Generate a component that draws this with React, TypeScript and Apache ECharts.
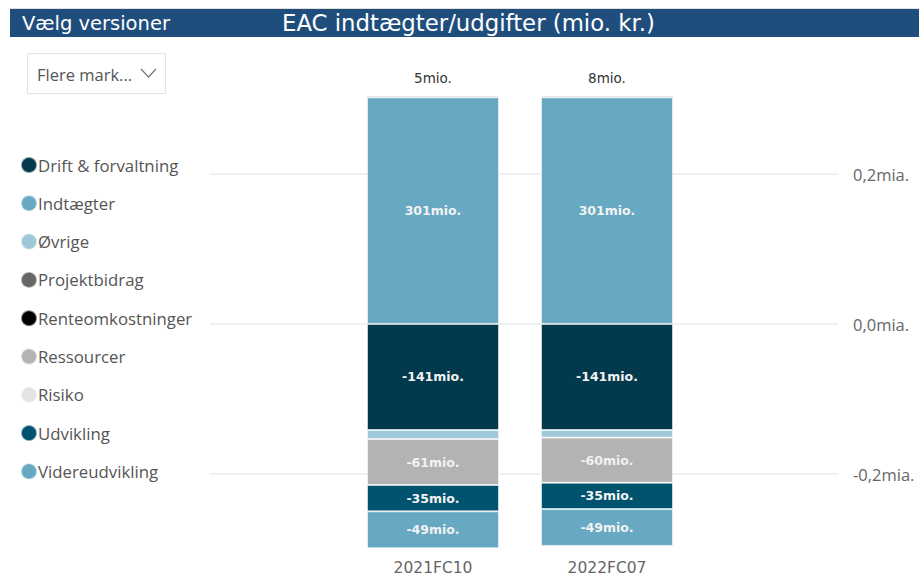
import React, { useEffect, useRef } from "react";
import * as echarts from "echarts";

const categories = ["2021FC10", "2022FC07"];
const seriesNames = [
  "Drift & forvaltning",
  "Indtægter",
  "Øvrige",
  "Projektbidrag",
  "Renteomkostninger",
  "Ressourcer",
  "Risiko",
  "Udvikling",
  "Videreudvikling",
];
const seriesColors = [
  "#03394c",
  "#67a9c2",
  "#9cc8d8",
  "#666666",
  "#000000",
  "#b3b3b3",
  "#e3e3e3",
  "#00536e",
  "#67a9c2",
];
// values in mio. kr. per category
const driftValues = [-141, -141];
const indtaegterValues = [301, 301];
const oevrigeValues = [-12, -10];
const projektbidragValues = [2, 2];
const renteValues = [0, 0];
const ressourcerValues = [-61, -60];
const risikoValues = [0, 0];
const udviklingValues = [-35, -35];
const videreudviklingValues = [-49, -49];
const yTicks = [-200, 0, 200];

const seriesValues = [
  driftValues,
  indtaegterValues,
  oevrigeValues,
  projektbidragValues,
  renteValues,
  ressourcerValues,
  risikoValues,
  udviklingValues,
  videreudviklingValues,
];
const showInside = [true, true, false, false, false, true, false, true, true];

const totals = categories.map((_, i) =>
  seriesValues.reduce((s, arr) => s + arr[i], 0)
);

const LABEL_FONT = "DejaVu Sans";
const UI_FONT = "'Open Sans', 'Noto Sans', sans-serif";

export default function App() {
  const ref = useRef<HTMLDivElement>(null);
  useEffect(() => {
    if (!ref.current) return;
    const chart = echarts.init(ref.current, null, { renderer: "svg" });

    const barSeries: any[] = seriesNames.map((name, si) => {
      const isTop = name === "Projektbidrag";
      return {
        name,
        type: "bar",
        stack: "total",
        xAxisIndex: 1,
        yAxisIndex: 1,
        barWidth: 132,
        clip: false,
        itemStyle: {
          color: seriesColors[si],
          borderColor: "rgba(255,255,255,0.55)",
          borderWidth: 1,
        },
        data: seriesValues[si].map((v) => (v === 0 ? "-" : v)),
        label: isTop
          ? {
              show: true,
              position: "top",
              distance: 11,
              color: "#333333",
              fontFamily: LABEL_FONT,
              fontSize: 13.5,
              formatter: (p: any) => `${Math.round(totals[p.dataIndex])}mio.`,
            }
          : {
              show: showInside[si],
              position: "inside",
              color: "#f2f2f2",
              fontFamily: LABEL_FONT,
              fontWeight: "bold",
              fontSize: 12.5,
              formatter: (p: any) => `${Math.round(p.value)}mio.`,
            },
        emphasis: { disabled: true },
      };
    });

    const option: any = {
      animation: false,
      backgroundColor: "#ffffff",
      legend: {
        orient: "vertical",
        left: 15,
        top: 151,
        icon: "circle",
        itemWidth: 16,
        itemHeight: 16,
        itemGap: 20.3,
        data: seriesNames,
        selectedMode: false,
        textStyle: {
          fontFamily: UI_FONT,
          fontSize: 16.8,
          lineHeight: 16,
          color: "#555555",
          padding: [0, 0, 0, -4],
        },
      },
      grid: [
        { left: 210, right: 81, top: 174, bottom: 102 },
        { left: 346, right: 225, top: 83, bottom: 21 },
      ],
      xAxis: [
        { type: "category", gridIndex: 0, data: categories, show: false },
        {
          type: "category",
          gridIndex: 1,
          data: categories,
          axisLine: { show: false, onZero: false },
          axisTick: { show: false },
          axisLabel: {
            margin: 5,
            fontFamily: LABEL_FONT,
            fontSize: 15.5,
            lineHeight: 16,
            color: "#666666",
          },
        },
      ],
      yAxis: [
        {
          type: "value",
          gridIndex: 0,
          position: "right",
          min: yTicks[0],
          max: yTicks[yTicks.length - 1],
          interval: 200,
          axisLine: { show: false },
          axisTick: { show: false },
          splitLine: { lineStyle: { color: "#ebebeb", width: 1.5 } },
          axisLabel: {
            margin: 15,
            fontFamily: UI_FONT,
            fontSize: 16.5,
            color: "#666666",
            formatter: (v: number) =>
              (v / 1000).toFixed(1).replace(".", ",") + "mia.",
          },
        },
        {
          type: "value",
          gridIndex: 1,
          min: -307,
          max: 320,
          show: false,
          splitLine: { show: false },
        },
      ],
      series: barSeries,
      graphic: [
        {
          type: "rect",
          shape: { x: 10, y: 8, width: 909, height: 1 },
          style: { fill: "#e0e0e0" },
        },
        {
          type: "rect",
          shape: { x: 10, y: 9, width: 909, height: 28 },
          style: { fill: "#1f4e7d" },
        },
        {
          type: "text",
          x: 22,
          y: 23,
          style: {
            text: "Vælg versioner",
            fill: "#ffffff",
            font: `19.5px ${LABEL_FONT}`,
            verticalAlign: "middle",
          },
        },
        {
          type: "text",
          x: 282,
          y: 23,
          style: {
            text: "EAC indtægter/udgifter (mio. kr.)",
            fill: "#ffffff",
            font: `22.8px ${LABEL_FONT}`,
            verticalAlign: "middle",
          },
        },
        {
          type: "rect",
          shape: { x: 27.5, y: 53.5, width: 138, height: 40 },
          style: { fill: "#ffffff", stroke: "#e3e3e3", lineWidth: 1 },
        },
        {
          type: "text",
          x: 37,
          y: 74,
          style: {
            text: "Flere mark...",
            fill: "#555555",
            font: `16.5px ${UI_FONT}`,
            verticalAlign: "middle",
          },
        },
        {
          type: "polyline",
          shape: {
            points: [
              [141, 69],
              [148.5, 77],
              [156, 69],
            ],
          },
          style: { stroke: "#777777", lineWidth: 1.2, fill: "none" },
        },
      ],
    };
    chart.setOption(option);
    return () => chart.dispose();
  }, []);
  return (
    <div
      ref={ref}
      style={{ position: "fixed", left: 0, top: 0, width: 919, height: 576 }}
    />
  );
}
